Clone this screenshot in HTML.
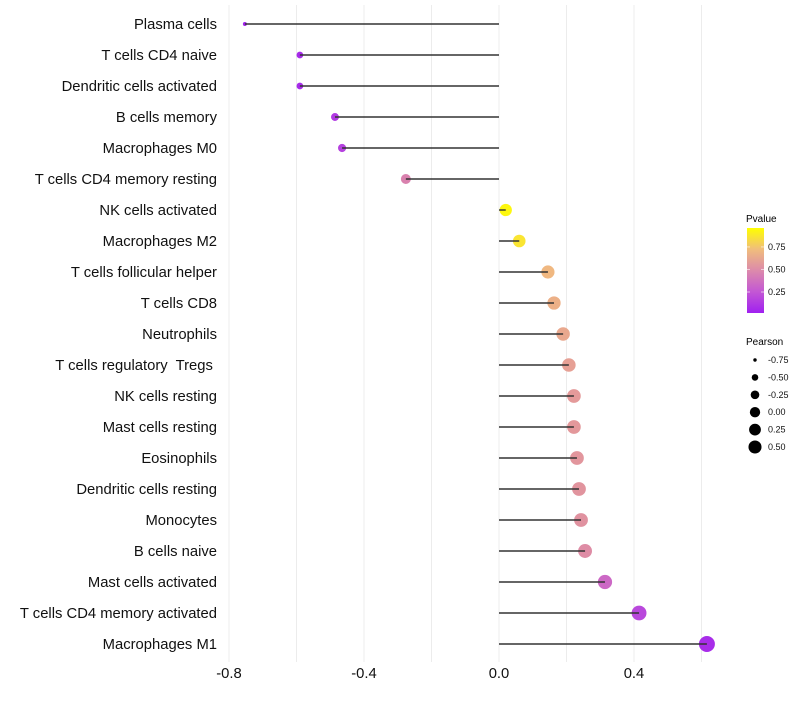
<!DOCTYPE html>
<html><head><meta charset="utf-8"><style>
body{margin:0;background:#fff;font-family:"Liberation Sans",sans-serif}
</style></head><body>
<svg id="chart" width="800" height="700" xmlns="http://www.w3.org/2000/svg" font-family="Liberation Sans, sans-serif">
<defs><linearGradient id="pg" x1="0" y1="1" x2="0" y2="0">
<stop offset="0" stop-color="#a020f0"/><stop offset="0.25" stop-color="#c357d4"/><stop offset="0.5" stop-color="#dc8aab"/><stop offset="0.75" stop-color="#f0bd7c"/><stop offset="1" stop-color="#ffff00"/></linearGradient></defs>
<g id="grid"></g>
<g id="marks"></g>
<g id="labels"></g>
<g id="xt"></g>
<g>
<text x="746" y="222" font-size="10">Pvalue</text>
<rect x="747" y="228" width="17" height="85" fill="url(#pg)"/>
<g id="pl"></g>
</g>
<g>
<text x="746" y="345" font-size="10">Pearson</text>
<g id="sl"></g>
</g>
</svg>
<script>
const categories=["Plasma cells","T cells CD4 naive","Dendritic cells activated","B cells memory","Macrophages M0","T cells CD4 memory resting","NK cells activated","Macrophages M2","T cells follicular helper","T cells CD8","Neutrophils","T cells regulatory  Tregs ","NK cells resting","Mast cells resting","Eosinophils","Dendritic cells resting","Monocytes","B cells naive","Mast cells activated","T cells CD4 memory activated","Macrophages M1"];
const pearson=[-0.753,-0.59,-0.59,-0.486,-0.465,-0.276,0.02,0.06,0.145,0.163,0.19,0.207,0.222,0.222,0.231,0.237,0.243,0.255,0.314,0.415,0.616];
const pvalue=[0.02,0.05,0.05,0.12,0.15,0.45,0.97,0.9,0.72,0.68,0.64,0.6,0.57,0.56,0.55,0.54,0.53,0.5,0.33,0.18,0.06];
const xTicks=[-0.8,-0.4,0.0,0.4];
const xMinor=[-0.6,-0.2,0.2,0.6];
const pTicks=[0.25,0.5,0.75];
const sizeTicks=[-0.75,-0.5,-0.25,0,0.25,0.5];
const NS="http://www.w3.org/2000/svg";
const X=v=>499+v*337.5;
const Y=i=>24+i*31;
const pMin=0.017,pMax=0.96;
const PY=p=>313-(p-pMin)/(pMax-pMin)*85;
const sMin=-0.753,sMax=0.616;
const R=v=>Math.sqrt(2*2+Math.max(0,(v-sMin)/(sMax-sMin))*(8*8-4));
const stops=[[0,[160,32,240]],[0.25,[195,87,212]],[0.5,[222,140,165]],[0.75,[242,190,124]],[1,[255,255,0]]];
function col(p){p=Math.max(0,Math.min(1,p));for(let k=1;k<stops.length;k++){if(p<=stops[k][0]){const a=stops[k-1],b=stops[k],t=(p-a[0])/(b[0]-a[0]);return 'rgb('+a[1].map((c,j)=>Math.round(c+(b[1][j]-c)*t)).join(',')+')';}}}
function mk(t,at,parent){const e=document.createElementNS(NS,t);for(const k in at)e.setAttribute(k,at[k]);document.getElementById(parent).appendChild(e);return e;}
xTicks.concat(xMinor).forEach(v=>{const l=mk('line',{x1:X(v),x2:X(v),y1:5,y2:662,stroke:'#ececec','stroke-width':1},'grid');

});
categories.forEach((c,i)=>{
 const ci=mk('circle',{cx:X(pearson[i]),cy:Y(i),r:R(pearson[i]),fill:col(pvalue[i])},'marks');
 
 
 const l=mk('line',{x1:X(0),x2:X(pearson[i]),y1:Y(i),y2:Y(i),stroke:'#333','stroke-width':1.4},'marks');
 
 
 const t=mk('text',{x:217,y:Y(i)+5,'text-anchor':'end','font-size':14.8,fill:'#111',style:'white-space:pre'},'labels');t.textContent=c;
 
 
});
xTicks.forEach(v=>{const t=mk('text',{x:X(v),y:678,'text-anchor':'middle','font-size':14.8,fill:'#111'},'xt');t.textContent=v.toFixed(1);

});
pTicks.forEach(v=>{const y=PY(v);mk('line',{x1:747,x2:750,y1:y,y2:y,stroke:'#fff','stroke-opacity':0.6},'pl');mk('line',{x1:761,x2:764,y1:y,y2:y,stroke:'#fff','stroke-opacity':0.6},'pl');
const t=mk('text',{x:768,y:y+3,'font-size':9,fill:'#111'},'pl');t.textContent=v.toFixed(2);

});
sizeTicks.forEach((v,k)=>{const y=360+k*17.4;const c=mk('circle',{cx:755,cy:y,r:R(v)*0.85,fill:'#000'},'sl');


const t=mk('text',{x:768,y:y+3,'font-size':9,fill:'#111'},'sl');t.textContent=v.toFixed(2);

});
</script>
</body></html>
